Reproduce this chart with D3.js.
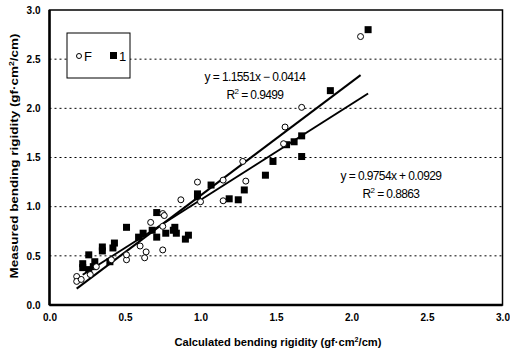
<!DOCTYPE html>
<html><head><meta charset="utf-8">
<script src="https://cdn.jsdelivr.net/npm/d3@7"></script>
<style>body{margin:0;background:#fff}</style>
</head><body>
<svg id="c" width="510" height="354"></svg>
<script>
const ticks = [0, 0.5, 1.0, 1.5, 2.0, 2.5, 3.0];
const fX = [2.06,1.67,1.56,1.55,1.28,1.30,1.15,1.15,0.98,1.00,0.87,0.75,0.76,0.67,0.75,0.75,0.60,0.64,0.63,0.51,0.51,0.41,0.18,0.18,0.21,0.27,0.31];
const fY = [2.73,2.01,1.81,1.64,1.46,1.26,1.27,1.06,1.25,1.05,1.07,0.93,0.91,0.84,0.80,0.56,0.60,0.54,0.48,0.46,0.51,0.46,0.29,0.24,0.26,0.31,0.39];
const iX = [2.11,1.86,1.67,1.67,1.62,1.57,1.48,1.43,1.29,1.25,1.19,1.07,0.98,0.98,0.71,0.71,0.77,0.82,0.84,0.83,0.90,0.92,0.68,0.62,0.59,0.51,0.43,0.42,0.35,0.35,0.26,0.22,0.22,0.30,0.29,0.26,0.40];
const iY = [2.80,2.18,1.72,1.51,1.66,1.63,1.46,1.32,1.17,1.07,1.08,1.22,1.13,1.10,0.94,0.69,0.73,0.76,0.73,0.79,0.67,0.71,0.76,0.73,0.69,0.79,0.63,0.58,0.59,0.55,0.51,0.42,0.38,0.44,0.39,0.36,0.44];
const fits = [
  {name:"F", slope:1.1551, icpt:-0.0414, eq:"y = 1.1551x − 0.0414", r2:"0.9499"},
  {name:"I", slope:0.9754, icpt:0.0929, eq:"y = 0.9754x + 0.0929", r2:"0.8863"}
];

const svg = d3.select("#c");
const L=49.5, R=502.5, T=10, B=305;
const x = d3.scaleLinear().domain([0,3]).range([L,R]);
const y = d3.scaleLinear().domain([0,3]).range([B,T]);
const font = "'Liberation Sans', Arial, sans-serif";

// gridlines
svg.append("g").selectAll("line").data(ticks.filter(t=>t>0&&t<3)).join("line")
  .attr("x1",L).attr("x2",R).attr("y1",d=>y(d)).attr("y2",d=>y(d))
  .attr("stroke","#000").attr("stroke-width",1).attr("stroke-dasharray","2,3");

// axes
const ax = svg.append("g").attr("transform",`translate(0,${B})`)
  .call(d3.axisBottom(x).tickValues(ticks).tickFormat(d3.format(".1f")).tickSize(0).tickPadding(9));
const ay = svg.append("g").attr("transform",`translate(${L},0)`)
  .call(d3.axisLeft(y).tickValues(ticks).tickFormat(d3.format(".1f")).tickSize(0).tickPadding(9));
[ax,ay].forEach(a=>{a.select(".domain").remove();
  a.selectAll("text").attr("font-family",font).attr("font-weight","bold").attr("font-size",10).attr("fill","#000");});

// frame
svg.append("rect").attr("x",L).attr("y",T).attr("width",R-L).attr("height",B-T)
  .attr("fill","none").attr("stroke","#000").attr("stroke-width",1.5);
svg.append("line").attr("x1",L).attr("x2",L).attr("y1",T).attr("y2",B).attr("stroke","#000").attr("stroke-width",2.5);
svg.append("line").attr("x1",L).attr("x2",R).attr("y1",B).attr("y2",B).attr("stroke","#000").attr("stroke-width",2.5);

// fit lines
const series = [{x:fX,y:fY},{x:iX,y:iY}];
fits.forEach((f,i)=>{
  const xs = series[i].x;
  const x0 = d3.min(xs), x1 = d3.max(xs);
  svg.append("line").attr("x1",x(x0)).attr("y1",y(f.slope*x0+f.icpt))
    .attr("x2",x(x1)).attr("y2",y(f.slope*x1+f.icpt))
    .attr("stroke","#000").attr("stroke-width",2);
});

// points
svg.append("g").selectAll("rect").data(d3.range(iX.length)).join("rect")
  .attr("x",d=>x(iX[d])-3.5).attr("y",d=>y(iY[d])-3.5).attr("width",7).attr("height",7).attr("fill","#000");
svg.append("g").selectAll("circle").data(d3.range(fX.length)).join("circle")
  .attr("cx",d=>x(fX[d])).attr("cy",d=>y(fY[d])).attr("r",3)
  .attr("fill","#fff").attr("stroke","#000").attr("stroke-width",1);

// equations
const eqPos = [[255,81,99],[391,180,198]];
fits.forEach((f,i)=>{
  const [cx,y1,y2]=eqPos[i];
  svg.append("text").attr("x",cx).attr("y",y1).attr("text-anchor","middle")
    .attr("font-family",font).attr("font-size",12).attr("letter-spacing",-0.6).text(f.eq);
  const t = svg.append("text").attr("x",cx).attr("y",y2).attr("text-anchor","middle")
    .attr("font-family",font).attr("font-size",12).attr("letter-spacing",-0.6);
  t.append("tspan").text("R");
  t.append("tspan").attr("dy",-5).attr("font-size",8).text("2");
  t.append("tspan").attr("dy",5).text(" = "+f.r2);
});

// legend
svg.append("rect").attr("x",67).attr("y",33).attr("width",63).attr("height",45)
  .attr("fill","#fff").attr("stroke","#000").attr("stroke-width",1);
svg.append("circle").attr("cx",79).attr("cy",56).attr("r",2.5).attr("fill","#fff").attr("stroke","#000");
svg.append("text").attr("x",84).attr("y",60.5).attr("font-family",font).attr("font-size",13).text(fits[0].name==="F"?"F":"");
svg.append("rect").attr("x",110).attr("y",52).attr("width",7).attr("height",7).attr("fill","#000");
svg.append("text").attr("x",119).attr("y",60.5).attr("font-family",font).attr("font-size",13).text("1");

// axis titles
const xt = svg.append("text").attr("x",278).attr("y",346).attr("text-anchor","middle")
  .attr("font-family",font).attr("font-weight","bold").attr("font-size",11)
  .attr("textLength",207).attr("lengthAdjust","spacingAndGlyphs");
xt.append("tspan").text("Calculated bending rigidity (gf·cm");
xt.append("tspan").attr("dy",-4).attr("font-size",7).text("2");
xt.append("tspan").attr("dy",4).text("/cm)");
const yt = svg.append("text").attr("transform","translate(18,156) rotate(-90)").attr("text-anchor","middle")
  .attr("font-family",font).attr("font-weight","bold").attr("font-size",11)
  .attr("textLength",245).attr("lengthAdjust","spacingAndGlyphs");
yt.append("tspan").text("Measured bending rigidity (gf·cm");
yt.append("tspan").attr("dy",-4).attr("font-size",7).text("2");
yt.append("tspan").attr("dy",4).text("/cm)");
</script>
</body></html>
